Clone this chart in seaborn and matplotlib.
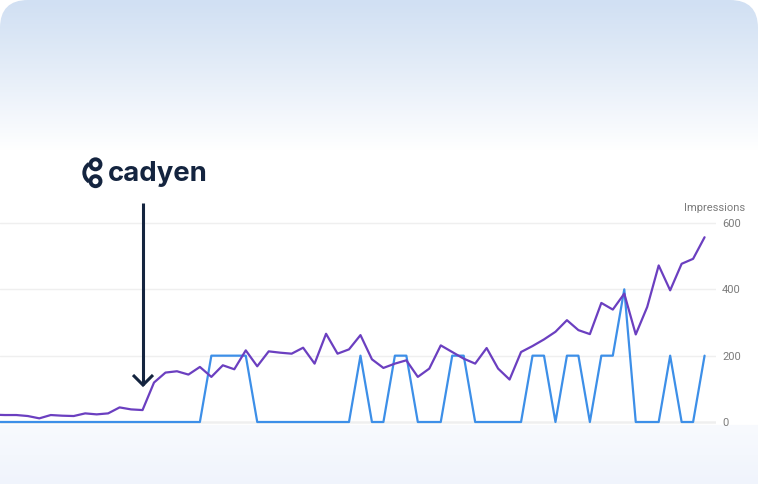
import numpy as np
import pandas as pd
import matplotlib
matplotlib.use("Agg")
import matplotlib.pyplot as plt
from matplotlib.patches import FancyBboxPatch, Arc, Circle
from matplotlib.colors import to_rgb
import seaborn as sns

# -----------------------------
# data
# -----------------------------
days = list(range(-1, 62))
impressions = [22, 21, 21, 18, 11, 21, 19, 18, 26, 23, 26, 44, 38, 36, 119, 149,
               153, 143, 166, 136, 171, 159, 216, 168, 213, 209, 206, 224, 176,
               266, 206, 219, 262, 189, 163, 176, 186, 136, 161, 231, 211, 191,
               176, 223, 161, 128, 211, 229, 249, 272, 307, 277, 265, 359, 339,
               387, 264, 347, 472, 397, 477, 492, 557]
cited = [0] * 19 + [200, 200, 200, 200] + [0] * 9 + [200, 0, 0, 200, 200, 0, 0, 0,
         200, 200, 0, 0, 0, 0, 0, 200, 200, 0, 200, 200, 0, 200, 200, 400, 0, 0,
         0, 200, 0, 0, 200]
y_ticks = [0, 200, 400, 600]
y_title = "Impressions"
brand = "cadyen"

df = pd.DataFrame({
    "day": days * 2,
    "value": impressions + cited,
    "series": ["impressions"] * len(days) + ["cited"] * len(days),
})

sns.set_theme(style="white")
plt.rcParams["font.family"] = ["Roboto", "DejaVu Sans"]

W, H = 760, 484
fig = plt.figure(figsize=(W / 100, H / 100), dpi=100)
fig.patch.set_facecolor("white")

# -----------------------------
# background card with gradient
# -----------------------------
ax_bg = fig.add_axes([0, 0, 1, 1], zorder=0)
ax_bg.set_xlim(0, W)
ax_bg.set_ylim(H, 0)
ax_bg.axis("off")

top_c = np.array(to_rgb("#d1e0f3"))
white = np.ones(3)
bot_c = np.array(to_rgb("#f0f4fc"))
grad = np.ones((H, 1, 3))
for r in range(H):
    if r < 150:
        t = (r / 150) ** 1.1
        grad[r, 0] = top_c * (1 - t) + white * t
    elif r >= 425:
        t = (r - 425) / (H - 425)
        grad[r, 0] = np.array(to_rgb("#f8fafe")) * (1 - t) + bot_c * t
img = ax_bg.imshow(grad, extent=[0, W, H, 0], aspect="auto", interpolation="bilinear")
card = FancyBboxPatch((0, 0), 758, H + 60, boxstyle="round,pad=0,rounding_size=28",
                      transform=ax_bg.transData, facecolor="none", edgecolor="none")
ax_bg.add_patch(card)
img.set_clip_path(card)

# -----------------------------
# line chart
# -----------------------------
px = 11.47      # pixels per day
x0 = 4.9        # pixel of day 0
y_per = 199 / 600
ymin, ymax = -10, 620
bottom_px = 422 - ymin * y_per
top_px = 223 - (ymax - 600) * y_per
ax = fig.add_axes([0, (H - bottom_px) / H, 716 / W, (bottom_px - top_px) / H], zorder=1)
ax.patch.set_visible(False)

ax.axhline(0, color="#cccccc", lw=1, zorder=0)
sns.lineplot(data=df, x="day", y="value", hue="series",
             palette={"impressions": "#6b3fc0", "cited": "#3d8fe8"},
             hue_order=["cited", "impressions"], linewidth=1.6, legend=False, ax=ax)

ax.set_xlim((0 - x0) / px, (716 - x0) / px)
ax.set_ylim(ymin, ymax)
ax.set_yticks(y_ticks)
ax.set_xticks([])
ax.yaxis.tick_right()
ax.tick_params(axis="y", length=0, pad=4.3, labelsize=8, labelcolor="#7b7b7b")
ax.grid(axis="y", color="#efefef", lw=1)
ax.set_xlabel("")
ax.set_ylabel("")
sns.despine(ax=ax, left=True, bottom=True, right=True, top=True)

# -----------------------------
# logo + arrow overlay
# -----------------------------
ax_top = fig.add_axes([0, 0, 1, 1], zorder=3)
ax_top.set_xlim(0, W)
ax_top.set_ylim(H, 0)
ax_top.axis("off")
ax_top.patch.set_visible(False)

navy = "#14243f"
ax_top.text(715, 208, y_title, ha="center", va="center", fontsize=8, color="#7b7b7b")
ax_top.text(107.5, 174, brand, ha="left", va="center", fontsize=19.8, fontweight="bold",
            color=navy, family=["Inter", "DejaVu Sans"])
# knot icon: two small loops joined by a wide arc on the left
icon_lw = 2.8
ax_top.add_patch(Circle((95.5, 164.3), 5.0, fill=False, edgecolor=navy, lw=icon_lw))
ax_top.add_patch(Circle((95.5, 181.2), 5.0, fill=False, edgecolor=navy, lw=icon_lw))
ax_top.add_patch(Arc((94.8, 172.7), 21, 21, theta1=122, theta2=238, color=navy, lw=icon_lw))

ax_top.plot([143, 143], [203, 385], color=navy, lw=2.2, solid_capstyle="butt")
ax_top.plot([133, 143, 153], [375, 385, 375], color=navy, lw=2.2,
            solid_joinstyle="miter", solid_capstyle="butt")

fig.savefig("out.png", dpi=100)
